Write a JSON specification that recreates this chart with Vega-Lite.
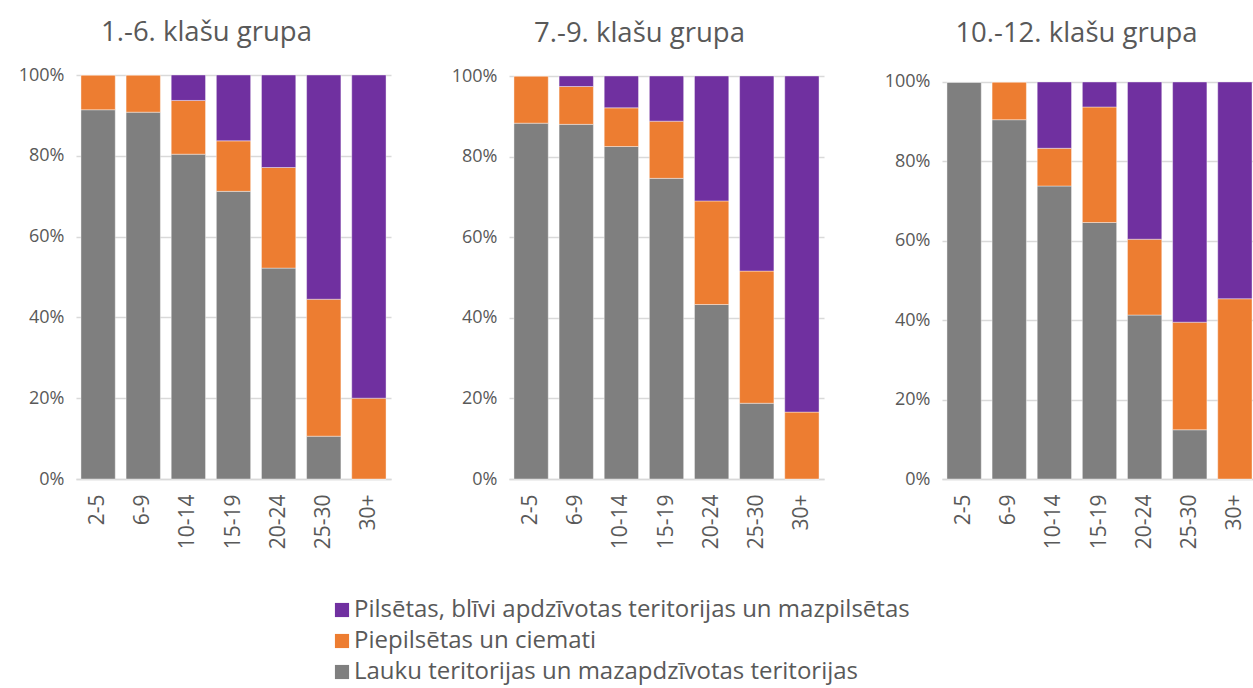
{
  "$schema": "https://vega.github.io/schema/vega-lite/v6.json",
  "padding": {"left": 18, "top": 18, "right": 0, "bottom": 8},
  "background": "white",
  "config": {
    "font": "Open Sans",
    "view": {"stroke": null},
    "title": {"font": "Open Sans", "fontSize": 27.5, "fontWeight": "normal", "color": "#595959", "offset": 20},
    "axis": {"labelFont": "Open Sans", "labelColor": "#595959", "labelFontSize": 18, "ticks": false, "title": null, "gridColor": "#D9D9D9", "gridWidth": 1.3},
    "concat": {"spacing": 60}
  },
  "datasets": {
    "d": [
      {"g": "1.-6.", "a": "2-5", "c": "Lauku teritorijas un mazapdzīvotas teritorijas", "k": 1, "v": 0.914},
      {"g": "1.-6.", "a": "2-5", "c": "Piepilsētas un ciemati", "k": 2, "v": 0.086},
      {"g": "1.-6.", "a": "2-5", "c": "Pilsētas, blīvi apdzīvotas teritorijas un mazpilsētas", "k": 3, "v": 0.0},
      {"g": "1.-6.", "a": "6-9", "c": "Lauku teritorijas un mazapdzīvotas teritorijas", "k": 1, "v": 0.908},
      {"g": "1.-6.", "a": "6-9", "c": "Piepilsētas un ciemati", "k": 2, "v": 0.092},
      {"g": "1.-6.", "a": "6-9", "c": "Pilsētas, blīvi apdzīvotas teritorijas un mazpilsētas", "k": 3, "v": 0.0},
      {"g": "1.-6.", "a": "10-14", "c": "Lauku teritorijas un mazapdzīvotas teritorijas", "k": 1, "v": 0.804},
      {"g": "1.-6.", "a": "10-14", "c": "Piepilsētas un ciemati", "k": 2, "v": 0.133},
      {"g": "1.-6.", "a": "10-14", "c": "Pilsētas, blīvi apdzīvotas teritorijas un mazpilsētas", "k": 3, "v": 0.063},
      {"g": "1.-6.", "a": "15-19", "c": "Lauku teritorijas un mazapdzīvotas teritorijas", "k": 1, "v": 0.712},
      {"g": "1.-6.", "a": "15-19", "c": "Piepilsētas un ciemati", "k": 2, "v": 0.125},
      {"g": "1.-6.", "a": "15-19", "c": "Pilsētas, blīvi apdzīvotas teritorijas un mazpilsētas", "k": 3, "v": 0.163},
      {"g": "1.-6.", "a": "20-24", "c": "Lauku teritorijas un mazapdzīvotas teritorijas", "k": 1, "v": 0.522},
      {"g": "1.-6.", "a": "20-24", "c": "Piepilsētas un ciemati", "k": 2, "v": 0.249},
      {"g": "1.-6.", "a": "20-24", "c": "Pilsētas, blīvi apdzīvotas teritorijas un mazpilsētas", "k": 3, "v": 0.229},
      {"g": "1.-6.", "a": "25-30", "c": "Lauku teritorijas un mazapdzīvotas teritorijas", "k": 1, "v": 0.106},
      {"g": "1.-6.", "a": "25-30", "c": "Piepilsētas un ciemati", "k": 2, "v": 0.339},
      {"g": "1.-6.", "a": "25-30", "c": "Pilsētas, blīvi apdzīvotas teritorijas un mazpilsētas", "k": 3, "v": 0.555},
      {"g": "1.-6.", "a": "30+", "c": "Lauku teritorijas un mazapdzīvotas teritorijas", "k": 1, "v": 0.0},
      {"g": "1.-6.", "a": "30+", "c": "Piepilsētas un ciemati", "k": 2, "v": 0.2},
      {"g": "1.-6.", "a": "30+", "c": "Pilsētas, blīvi apdzīvotas teritorijas un mazpilsētas", "k": 3, "v": 0.8},
      {"g": "7.-9.", "a": "2-5", "c": "Lauku teritorijas un mazapdzīvotas teritorijas", "k": 1, "v": 0.883},
      {"g": "7.-9.", "a": "2-5", "c": "Piepilsētas un ciemati", "k": 2, "v": 0.117},
      {"g": "7.-9.", "a": "2-5", "c": "Pilsētas, blīvi apdzīvotas teritorijas un mazpilsētas", "k": 3, "v": 0.0},
      {"g": "7.-9.", "a": "6-9", "c": "Lauku teritorijas un mazapdzīvotas teritorijas", "k": 1, "v": 0.88},
      {"g": "7.-9.", "a": "6-9", "c": "Piepilsētas un ciemati", "k": 2, "v": 0.094},
      {"g": "7.-9.", "a": "6-9", "c": "Pilsētas, blīvi apdzīvotas teritorijas un mazpilsētas", "k": 3, "v": 0.026},
      {"g": "7.-9.", "a": "10-14", "c": "Lauku teritorijas un mazapdzīvotas teritorijas", "k": 1, "v": 0.825},
      {"g": "7.-9.", "a": "10-14", "c": "Piepilsētas un ciemati", "k": 2, "v": 0.096},
      {"g": "7.-9.", "a": "10-14", "c": "Pilsētas, blīvi apdzīvotas teritorijas un mazpilsētas", "k": 3, "v": 0.079},
      {"g": "7.-9.", "a": "15-19", "c": "Lauku teritorijas un mazapdzīvotas teritorijas", "k": 1, "v": 0.746},
      {"g": "7.-9.", "a": "15-19", "c": "Piepilsētas un ciemati", "k": 2, "v": 0.142},
      {"g": "7.-9.", "a": "15-19", "c": "Pilsētas, blīvi apdzīvotas teritorijas un mazpilsētas", "k": 3, "v": 0.112},
      {"g": "7.-9.", "a": "20-24", "c": "Lauku teritorijas un mazapdzīvotas teritorijas", "k": 1, "v": 0.433},
      {"g": "7.-9.", "a": "20-24", "c": "Piepilsētas un ciemati", "k": 2, "v": 0.257},
      {"g": "7.-9.", "a": "20-24", "c": "Pilsētas, blīvi apdzīvotas teritorijas un mazpilsētas", "k": 3, "v": 0.31},
      {"g": "7.-9.", "a": "25-30", "c": "Lauku teritorijas un mazapdzīvotas teritorijas", "k": 1, "v": 0.188},
      {"g": "7.-9.", "a": "25-30", "c": "Piepilsētas un ciemati", "k": 2, "v": 0.328},
      {"g": "7.-9.", "a": "25-30", "c": "Pilsētas, blīvi apdzīvotas teritorijas un mazpilsētas", "k": 3, "v": 0.484},
      {"g": "7.-9.", "a": "30+", "c": "Lauku teritorijas un mazapdzīvotas teritorijas", "k": 1, "v": 0.0},
      {"g": "7.-9.", "a": "30+", "c": "Piepilsētas un ciemati", "k": 2, "v": 0.166},
      {"g": "7.-9.", "a": "30+", "c": "Pilsētas, blīvi apdzīvotas teritorijas un mazpilsētas", "k": 3, "v": 0.834},
      {"g": "10.-12.", "a": "2-5", "c": "Lauku teritorijas un mazapdzīvotas teritorijas", "k": 1, "v": 1.0},
      {"g": "10.-12.", "a": "2-5", "c": "Piepilsētas un ciemati", "k": 2, "v": 0.0},
      {"g": "10.-12.", "a": "2-5", "c": "Pilsētas, blīvi apdzīvotas teritorijas un mazpilsētas", "k": 3, "v": 0.0},
      {"g": "10.-12.", "a": "6-9", "c": "Lauku teritorijas un mazapdzīvotas teritorijas", "k": 1, "v": 0.905},
      {"g": "10.-12.", "a": "6-9", "c": "Piepilsētas un ciemati", "k": 2, "v": 0.095},
      {"g": "10.-12.", "a": "6-9", "c": "Pilsētas, blīvi apdzīvotas teritorijas un mazpilsētas", "k": 3, "v": 0.0},
      {"g": "10.-12.", "a": "10-14", "c": "Lauku teritorijas un mazapdzīvotas teritorijas", "k": 1, "v": 0.738},
      {"g": "10.-12.", "a": "10-14", "c": "Piepilsētas un ciemati", "k": 2, "v": 0.095},
      {"g": "10.-12.", "a": "10-14", "c": "Pilsētas, blīvi apdzīvotas teritorijas un mazpilsētas", "k": 3, "v": 0.167},
      {"g": "10.-12.", "a": "15-19", "c": "Lauku teritorijas un mazapdzīvotas teritorijas", "k": 1, "v": 0.646},
      {"g": "10.-12.", "a": "15-19", "c": "Piepilsētas un ciemati", "k": 2, "v": 0.291},
      {"g": "10.-12.", "a": "15-19", "c": "Pilsētas, blīvi apdzīvotas teritorijas un mazpilsētas", "k": 3, "v": 0.063},
      {"g": "10.-12.", "a": "20-24", "c": "Lauku teritorijas un mazapdzīvotas teritorijas", "k": 1, "v": 0.413},
      {"g": "10.-12.", "a": "20-24", "c": "Piepilsētas un ciemati", "k": 2, "v": 0.191},
      {"g": "10.-12.", "a": "20-24", "c": "Pilsētas, blīvi apdzīvotas teritorijas un mazpilsētas", "k": 3, "v": 0.396},
      {"g": "10.-12.", "a": "25-30", "c": "Lauku teritorijas un mazapdzīvotas teritorijas", "k": 1, "v": 0.124},
      {"g": "10.-12.", "a": "25-30", "c": "Piepilsētas un ciemati", "k": 2, "v": 0.271},
      {"g": "10.-12.", "a": "25-30", "c": "Pilsētas, blīvi apdzīvotas teritorijas un mazpilsētas", "k": 3, "v": 0.605},
      {"g": "10.-12.", "a": "30+", "c": "Lauku teritorijas un mazapdzīvotas teritorijas", "k": 1, "v": 0.0},
      {"g": "10.-12.", "a": "30+", "c": "Piepilsētas un ciemati", "k": 2, "v": 0.454},
      {"g": "10.-12.", "a": "30+", "c": "Pilsētas, blīvi apdzīvotas teritorijas un mazpilsētas", "k": 3, "v": 0.546}
    ]
  },
  "data": {"name": "d"},
  "resolve": {"scale": {"color": "shared"}},
  "hconcat": [
    {
      "title": {"text": "1.-6. klašu grupa", "dx": -27},
      "width": 315, "height": 404,
      "transform": [{"filter": "datum.g === '1.-6.'"}],
      "mark": {"type": "bar", "stroke": "#ffffff", "strokeWidth": 0.4},
      "encoding": {
        "x": {"field": "a", "type": "nominal", "sort": ["2-5", "6-9", "10-14", "15-19", "20-24", "25-30", "30+"], "scale": {"paddingInner": 0.24, "paddingOuter": 0.11}, "axis": {"labelAngle": -90, "labelPadding": 15, "domainColor": "#D9D9D9", "domainWidth": 1.3, "labelFontSize": 21}},
        "y": {"field": "v", "type": "quantitative", "stack": "zero", "scale": {"domain": [0, 1], "nice": false}, "axis": {"values": [0, 0.2, 0.4, 0.6, 0.8, 1], "format": ".0%", "domain": false, "labelPadding": 12}},
        "color": {"field": "c", "type": "nominal", "scale": {"domain": ["Pilsētas, blīvi apdzīvotas teritorijas un mazpilsētas", "Piepilsētas un ciemati", "Lauku teritorijas un mazapdzīvotas teritorijas"], "range": ["#7030A0", "#ED7D31", "#7F7F7F"]},
          "legend": {"title": null, "orient": "none", "legendX": 254, "legendY": 523, "direction": "vertical", "symbolType": "square", "symbolSize": 200, "symbolStrokeWidth": 0, "symbolOpacity": 1, "labelFontSize": 24, "labelFont": "Open Sans", "labelColor": "#595959", "labelLimit": 900, "rowPadding": 7, "labelOffset": 0}},
        "order": {"field": "k", "type": "quantitative"}
      }
    },
    {
      "title": {"text": "7.-9. klašu grupa", "dx": -27},
      "width": 315, "height": 404,
      "transform": [{"filter": "datum.g === '7.-9.'"}],
      "mark": {"type": "bar", "stroke": "#ffffff", "strokeWidth": 0.4},
      "encoding": {
        "x": {"field": "a", "type": "nominal", "sort": ["2-5", "6-9", "10-14", "15-19", "20-24", "25-30", "30+"], "scale": {"paddingInner": 0.24, "paddingOuter": 0.11}, "axis": {"labelAngle": -90, "labelPadding": 15, "domainColor": "#D9D9D9", "domainWidth": 1.3, "labelFontSize": 21}},
        "y": {"field": "v", "type": "quantitative", "stack": "zero", "scale": {"domain": [0, 1.0025], "nice": false}, "axis": {"values": [0, 0.2, 0.4, 0.6, 0.8, 1], "format": ".0%", "domain": false, "labelPadding": 12}},
        "color": {"field": "c", "type": "nominal"},
        "order": {"field": "k", "type": "quantitative"}
      }
    },
    {
      "title": {"text": "10.-12. klašu grupa", "dx": -23, "offset": 25},
      "width": 315, "height": 404,
      "transform": [{"filter": "datum.g === '10.-12.'"}],
      "mark": {"type": "bar", "stroke": "#ffffff", "strokeWidth": 0.4},
      "encoding": {
        "x": {"field": "a", "type": "nominal", "sort": ["2-5", "6-9", "10-14", "15-19", "20-24", "25-30", "30+"], "scale": {"paddingInner": 0.24, "paddingOuter": 0.11}, "axis": {"labelAngle": -90, "labelPadding": 15, "domainColor": "#D9D9D9", "domainWidth": 1.3, "labelFontSize": 21}},
        "y": {"field": "v", "type": "quantitative", "stack": "zero", "scale": {"domain": [0, 1.0176], "nice": false}, "axis": {"values": [0, 0.2, 0.4, 0.6, 0.8, 1], "format": ".0%", "domain": false, "labelPadding": 12}},
        "color": {"field": "c", "type": "nominal"},
        "order": {"field": "k", "type": "quantitative"}
      }
    }
  ]
}
